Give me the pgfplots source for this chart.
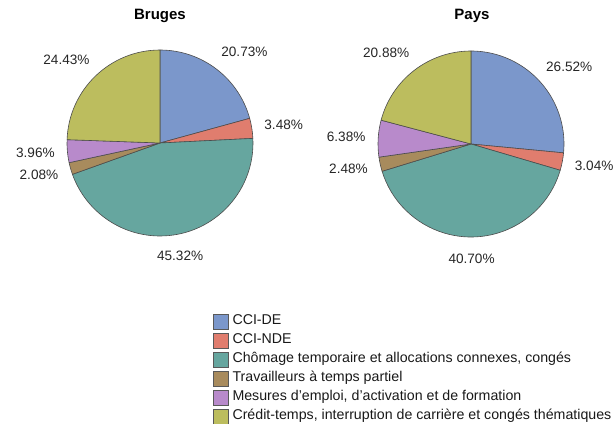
\documentclass[border=0pt]{standalone}
\usepackage{pgfplots}
\usepackage{pgfplotstable}
\pgfplotsset{compat=1.18}
\usetikzlibrary{calc}
\usepackage{fontspec}
\setmainfont{Liberation Sans}

\definecolor{c0}{HTML}{7B97CB}
\definecolor{c1}{HTML}{E07D6E}
\definecolor{c2}{HTML}{66A69F}
\definecolor{c3}{HTML}{A88B5D}
\definecolor{c4}{HTML}{B88ACB}
\definecolor{c5}{HTML}{BCBD5E}

\pgfplotstableread{
idx bruges pays
0 20.73 26.52
1 3.48 3.04
2 45.32 40.70
3 2.08 2.48
4 3.96 6.38
5 24.43 20.88
}\piedata

% cumulative angles (clockwise from 90 deg) and label offsets
\newcommand\computepie[2]{% #1 column, #2 prefix
  \def\acc{0}%
  \pgfplotsforeachungrouped \i in {0,...,5}{%
    \pgfplotstablegetelem{\i}{#1}\of\piedata
    \let\val\pgfplotsretval
    \pgfmathsetmacro\s{90-3.6*\acc}%
    \pgfmathsetmacro\acc{\acc+\val}%
    \pgfmathsetmacro\e{90-3.6*\acc}%
    \pgfmathsetmacro\m{(\s+\e)/2}%
    \pgfmathsetmacro\gx{abs(cos(\m))<0.35 ? 0 : (cos(\m)>0 ? 1 : -1)}%
    \pgfmathsetmacro\lx{103*cos(\m)+22*\gx}%
    \pgfmathsetmacro\ly{115*sin(\m)}%
    \expandafter\xdef\csname #2s\i\endcsname{\s}%
    \expandafter\xdef\csname #2e\i\endcsname{\e}%
    \expandafter\xdef\csname #2x\i\endcsname{\lx}%
    \expandafter\xdef\csname #2y\i\endcsname{\ly}%
    \expandafter\xdef\csname #2v\i\endcsname{\val}%
  }%
}
\computepie{bruges}{b}
\computepie{pays}{p}

\begin{document}
\begin{tikzpicture}
\begin{axis}[
  x=1pt, y=1pt,
  xmin=0, xmax=613, ymin=0, ymax=423,
  hide axis,
  clip=false,
  legend style={at={(axis cs:213,109.5)}, anchor=north west, draw=none, fill=none,
    font=\fontsize{14.2}{16}\selectfont, row sep=3.4pt, inner sep=0pt, outer sep=0pt,
    nodes={inner sep=0pt, text height=10pt, text depth=3pt, text=black!90},
    cells={anchor=west}},
  legend cell align=left,
  legend image code/.code={\draw[#1, draw=black!65, line width=0.6pt] (0pt,-7.5pt) rectangle (15pt,7.5pt); \path (19pt,0pt);},
]
\path (axis cs:0,0) rectangle (axis cs:613,423);
% titles
\node[font=\bfseries\fontsize{15}{17}\selectfont] at (axis cs:160,407) {Bruges};
\node[font=\bfseries\fontsize{15}{17}\selectfont] at (axis cs:472,407) {Pays};
% Bruges pie
\pgfplotsinvokeforeach{0,...,5}{
  \draw[fill=c#1, draw=black!70, line width=0.6pt, line join=round]
    (axis cs:160,280) -- ++(\csname bs#1\endcsname:93pt)
    arc[start angle=\csname bs#1\endcsname, end angle=\csname be#1\endcsname, radius=93pt] -- cycle;
  \node[inner sep=0pt, font=\fontsize{13.6}{15}\selectfont, text=black!85]
    at (axis cs:{160+\csname bx#1\endcsname},{280+\csname by#1\endcsname}) {\csname bv#1\endcsname\%};
}
% Pays pie
\pgfplotsinvokeforeach{0,...,5}{
  \draw[fill=c#1, draw=black!70, line width=0.6pt, line join=round]
    (axis cs:471,279) -- ++(\csname ps#1\endcsname:93pt)
    arc[start angle=\csname ps#1\endcsname, end angle=\csname pe#1\endcsname, radius=93pt] -- cycle;
  \node[inner sep=0pt, font=\fontsize{13.6}{15}\selectfont, text=black!85]
    at (axis cs:{471+\csname px#1\endcsname},{279+\csname py#1\endcsname}) {\csname pv#1\endcsname\%};
}
\addlegendimage{fill=c0}
\addlegendentry{CCI-DE}
\addlegendimage{fill=c1}
\addlegendentry{CCI-NDE}
\addlegendimage{fill=c2}
\addlegendentry{Chômage temporaire et allocations connexes, congés}
\addlegendimage{fill=c3}
\addlegendentry{Travailleurs à temps partiel}
\addlegendimage{fill=c4}
\addlegendentry{Mesures d'emploi, d'activation et de formation}
\addlegendimage{fill=c5}
\addlegendentry{Crédit-temps, interruption de carrière et congés thématiques}
\end{axis}
\pgfresetboundingbox
\path (0pt,0pt) rectangle (613pt,423pt);
\end{tikzpicture}
\end{document}
